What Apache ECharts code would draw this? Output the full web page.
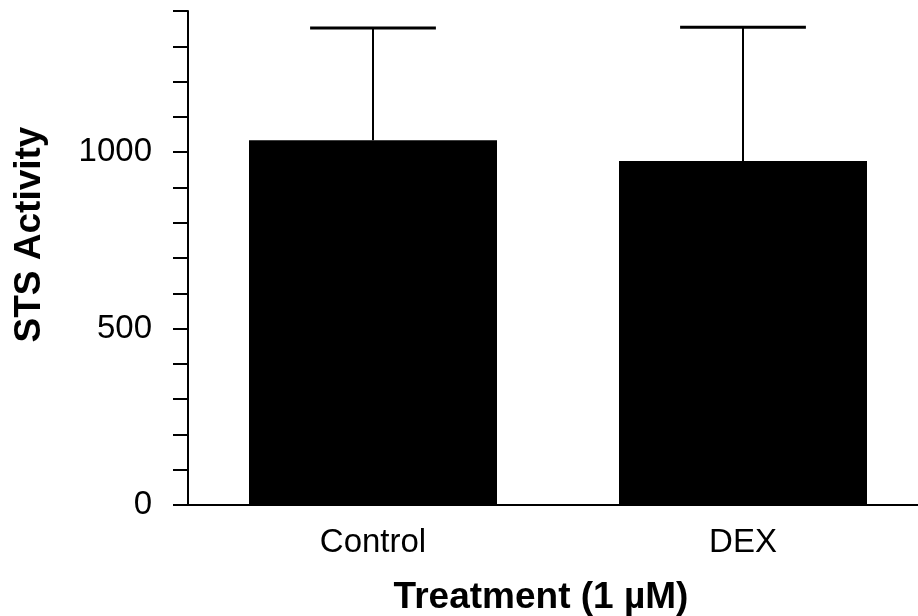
<!DOCTYPE html>
<html>
<head>
<meta charset="utf-8">
<script src="https://cdn.jsdelivr.net/npm/echarts@6/dist/echarts.min.js"></script>
<style>
  html, body { margin: 0; padding: 0; background: #fff; }
  #chart { width: 918px; height: 616px; }
</style>
</head>
<body>
<div id="chart"></div>
<script>
// values
const categories = ['Control', 'DEX'];
const means = [1034, 975];
const errors = [318, 379];
const yLabels = [0, 500, 1000];

const chart = echarts.init(document.getElementById('chart'));

// upper error bar: stem from the bar top plus a cap
function renderError(params, api) {
    const x = api.value(0);
    const top = api.coord([x, api.value(1) + api.value(2)]);
    const base = api.coord([x, api.value(1)]);
    const half = api.size([1, 0])[0] * 0.17;
    return {
        type: 'group',
        children: [
            { type: 'line', shape: { x1: top[0], y1: top[1], x2: base[0], y2: base[1] },
              style: { stroke: '#000', lineWidth: 2 } },
            { type: 'line', shape: { x1: top[0] - half, y1: top[1], x2: top[0] + half, y2: top[1] },
              style: { stroke: '#000', lineWidth: 3 } }
        ]
    };
}

const option = {
    animation: false,
    grid: { left: 188, top: 11, width: 740, height: 494, outerBoundsMode: 'none' },
    xAxis: {
        type: 'category',
        data: categories,
        name: 'Treatment (1 µM)',
        nameLocation: 'middle',
        nameGap: 74,
        nameTextStyle: { fontFamily: 'Liberation Sans', fontWeight: 'bold', fontSize: 37, color: '#000',
                         padding: [0, 34, 0, 0] },
        axisLine: { lineStyle: { color: '#000', width: 2 } },
        axisTick: { show: false },
        axisLabel: { fontFamily: 'Liberation Sans', fontSize: 33, color: '#000', margin: 21 }
    },
    yAxis: {
        type: 'value',
        min: 0,
        max: 1400,
        interval: 100,
        name: 'STS Activity',
        nameLocation: 'middle',
        nameGap: 140,
        nameTextStyle: { fontFamily: 'Liberation Sans', fontWeight: 'bold', fontSize: 37, color: '#000',
                         padding: [0, 0, 0, 47] },
        splitLine: { show: false },
        axisLine: { show: true, lineStyle: { color: '#000', width: 2 } },
        axisTick: { show: true, length: 15, lineStyle: { color: '#000', width: 2 } },
        axisLabel: {
            fontFamily: 'Liberation Sans', fontSize: 33, color: '#000', margin: 36,
            formatter: v => yLabels.includes(v) ? String(v) : ''
        }
    },
    series: [
        {
            type: 'bar',
            data: means,
            barWidth: 248,
            itemStyle: { color: '#000' }
        },
        {
            type: 'custom',
            renderItem: renderError,
            data: categories.map((c, i) => [i, means[i], errors[i]]),
            z: 3
        }
    ]
};

chart.setOption(option);
</script>
</body>
</html>
